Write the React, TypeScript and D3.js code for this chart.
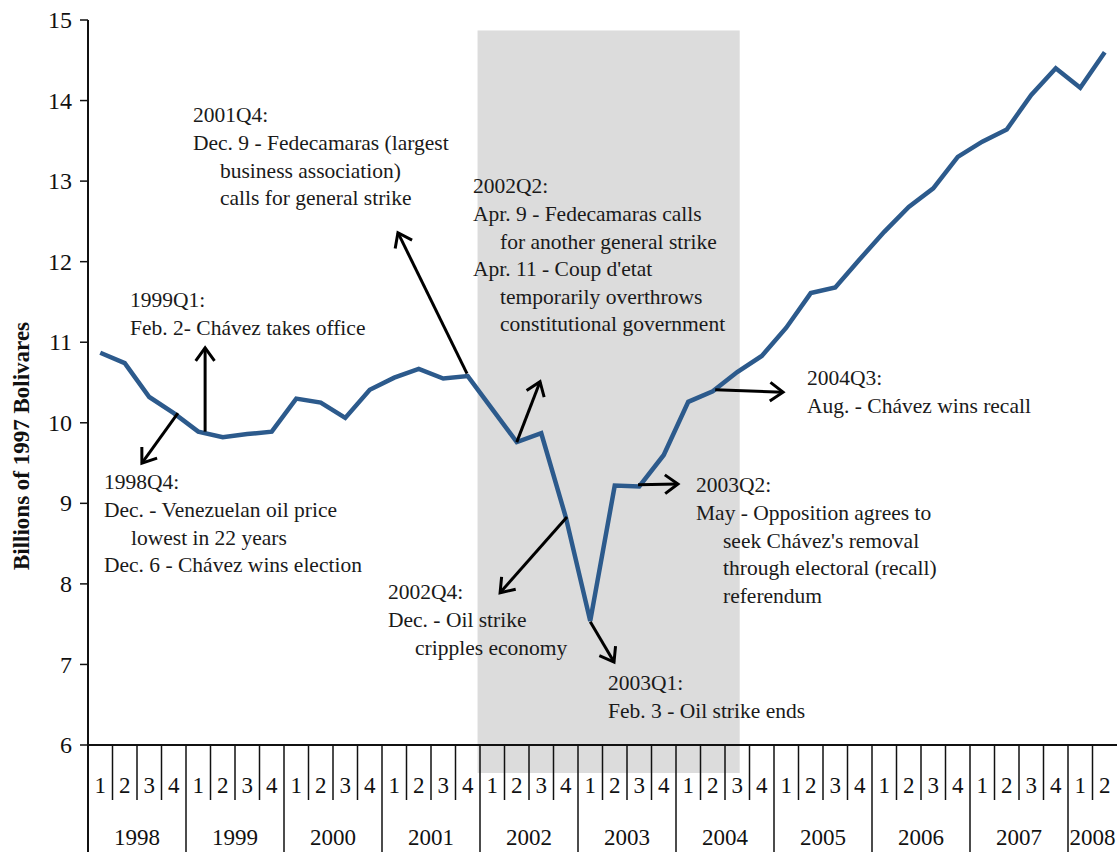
import React from "react";
import * as d3 from "d3";

const years = ["1998", "1999", "2000", "2001", "2002", "2003", "2004", "2005", "2006", "2007", "2008"];
const quarterLabels = ["1", "2", "3", "4"];
const yTicks = [6, 7, 8, 9, 10, 11, 12, 13, 14, 15];
// Real GDP, billions of 1997 bolivares, 1998Q1 .. 2008Q2
const gdp = [
  10.87, 10.74, 10.32, 10.12,
  9.89, 9.82, 9.86, 9.89,
  10.3, 10.25, 10.06, 10.41,
  10.56, 10.67, 10.55, 10.58,
  10.17, 9.76, 9.87, 8.83,
  7.54, 9.22, 9.21, 9.6,
  10.26, 10.39, 10.63, 10.83,
  11.18, 11.61, 11.68, 12.03,
  12.37, 12.68, 12.91, 13.3,
  13.49, 13.64, 14.07, 14.4,
  14.16, 14.6,
];
const nQuarters = 42;
// shaded period in quarter units (2002Q1 .. Aug 2004)
const shade = { start: 15.9, end: 26.6, top: 14.87 };

type Arrow = { x1: number; y1: number; x2: number; y2: number };
const arrows: Arrow[] = [
  { x1: 3.67, y1: 10.12, x2: 2.2, y2: 9.5 },
  { x1: 4.78, y1: 9.89, x2: 4.78, y2: 10.93 },
  { x1: 15.47, y1: 10.61, x2: 12.65, y2: 12.36 },
  { x1: 17.5, y1: 9.76, x2: 18.45, y2: 10.51 },
  { x1: 19.55, y1: 8.83, x2: 16.82, y2: 7.89 },
  { x1: 20.5, y1: 7.53, x2: 21.47, y2: 7.03 },
  { x1: 22.45, y1: 9.23, x2: 24.08, y2: 9.24 },
  { x1: 25.6, y1: 10.41, x2: 28.37, y2: 10.38 },
];

type Line = { t: string; indent?: boolean };
type Note = { x: number; y: number; lines: Line[] };
const notes: Note[] = [
  { x: 130, y: 300, lines: [{ t: "1999Q1:" }, { t: "Feb. 2- Chávez takes office" }] },
  {
    x: 104, y: 482, lines: [
      { t: "1998Q4:" }, { t: "Dec. - Venezuelan oil price" }, { t: "lowest in 22 years", indent: true },
      { t: "Dec. 6 - Chávez wins election" },
    ],
  },
  {
    x: 193, y: 115, lines: [
      { t: "2001Q4:" }, { t: "Dec. 9 - Fedecamaras (largest" }, { t: "business association)", indent: true },
      { t: "calls for general strike", indent: true },
    ],
  },
  {
    x: 473, y: 186, lines: [
      { t: "2002Q2:" }, { t: "Apr. 9 - Fedecamaras calls" }, { t: "for another general strike", indent: true },
      { t: "Apr. 11 - Coup d'etat" }, { t: "temporarily overthrows", indent: true },
      { t: "constitutional government", indent: true },
    ],
  },
  { x: 807, y: 378, lines: [{ t: "2004Q3:" }, { t: "Aug. - Chávez wins recall" }] },
  {
    x: 696, y: 485, lines: [
      { t: "2003Q2:" }, { t: "May - Opposition agrees to" }, { t: "seek Chávez's removal", indent: true },
      { t: "through electoral (recall)", indent: true }, { t: "referendum", indent: true },
    ],
  },
  { x: 388, y: 592, lines: [{ t: "2002Q4:" }, { t: "Dec. - Oil strike" }, { t: "cripples economy", indent: true }] },
  { x: 608, y: 683, lines: [{ t: "2003Q1:" }, { t: "Feb. 3 - Oil strike ends" }] },
];

const W = 1117;
const H = 852;
const left = 88;
const axisY = 745;
const FONT = "'Liberation Serif', 'Times New Roman', Times, serif";

export default function App() {
  const x = d3.scaleLinear().domain([0, nQuarters]).range([left, left + nQuarters * 24.5]);
  const y = d3.scaleLinear().domain([6, 15]).range([axisY, 20]);
  const line = d3
    .line<number>()
    .x((_, i) => x(i + 0.5))
    .y((d) => y(d));

  const arrowHead = (a: Arrow) => {
    const X1 = x(a.x1), Y1 = y(a.y1), X2 = x(a.x2), Y2 = y(a.y2);
    const ang = Math.atan2(Y2 - Y1, X2 - X1);
    const L = 16, spread = (36 * Math.PI) / 180;
    const p1 = [X2 - L * Math.cos(ang - spread), Y2 - L * Math.sin(ang - spread)];
    const p2 = [X2 - L * Math.cos(ang + spread), Y2 - L * Math.sin(ang + spread)];
    return `M${p1[0]},${p1[1]}L${X2},${Y2}L${p2[0]},${p2[1]}`;
  };

  const ts = { fontFamily: FONT };

  return (
    <svg width={W} height={H} style={{ position: "absolute", left: 0, top: 0, background: "#fff", fontFamily: FONT }}>
      <rect
        x={x(shade.start)}
        y={y(shade.top)}
        width={x(shade.end) - x(shade.start)}
        height={axisY + 28 - y(shade.top)}
        fill="#dcdcdc"
      />
      {/* y axis */}
      <line x1={left} x2={left} y1={y(15)} y2={H} stroke="#111" strokeWidth={2} />
      {yTicks.map((t) => (
        <g key={t}>
          <line x1={left - 8} x2={left} y1={y(t)} y2={y(t)} stroke="#111" strokeWidth={1.5} />
          <text x={left - 16} y={y(t)} dy="0.34em" textAnchor="end" fontSize={24} fill="#111" style={ts}>
            {t}
          </text>
        </g>
      ))}
      <text
        transform={`translate(21,${446}) rotate(-90)`}
        textAnchor="middle"
        dy="0.34em"
        fontSize={23}
        fontWeight="bold"
        fill="#111"
        style={ts}
      >
        Billions of 1997 Bolivares
      </text>
      {/* x axis */}
      <line x1={left} x2={W} y1={axisY} y2={axisY} stroke="#111" strokeWidth={2} />
      {d3.range(1, nQuarters).map((i) => (
        <line
          key={"s" + i}
          x1={x(i)}
          x2={x(i)}
          y1={axisY}
          y2={i % 4 === 0 ? H : 800}
          stroke="#111"
          strokeWidth={1.5}
        />
      ))}
      {d3.range(nQuarters).map((i) => (
        <text key={"q" + i} x={x(i + 0.5)} y={785} dy="0.34em" textAnchor="middle" fontSize={23} fill="#111" style={ts}>
          {quarterLabels[i % 4]}
        </text>
      ))}
      {years.map((yr, k) => {
        const s = k * 4;
        const e = Math.min(nQuarters, s + 4);
        return (
          <text key={yr} x={x((s + e) / 2)} y={837} dy="0.34em" textAnchor="middle" fontSize={23} fill="#111" style={ts}>
            {yr}
          </text>
        );
      })}
      {/* series */}
      <path d={line(gdp) || ""} fill="none" stroke="#2c5a8c" strokeWidth={4.5} strokeLinejoin="miter" />
      {/* arrows */}
      {arrows.map((a, i) => (
        <g key={"a" + i} stroke="#000" strokeWidth={3} fill="none">
          <line x1={x(a.x1)} y1={y(a.y1)} x2={x(a.x2)} y2={y(a.y2)} />
          <path d={arrowHead(a)} />
        </g>
      ))}
      {/* notes */}
      {notes.map((n, i) => (
        <g key={"n" + i}>
          {n.lines.map((l, j) => (
            <text
              key={j}
              x={n.x + (l.indent ? 27 : 0)}
              y={n.y + j * 27.6}
              dy="0.34em"
              fontSize={21.5}
              fill="#1a1a1a"
              style={ts}
            >
              {l.t}
            </text>
          ))}
        </g>
      ))}
    </svg>
  );
}
